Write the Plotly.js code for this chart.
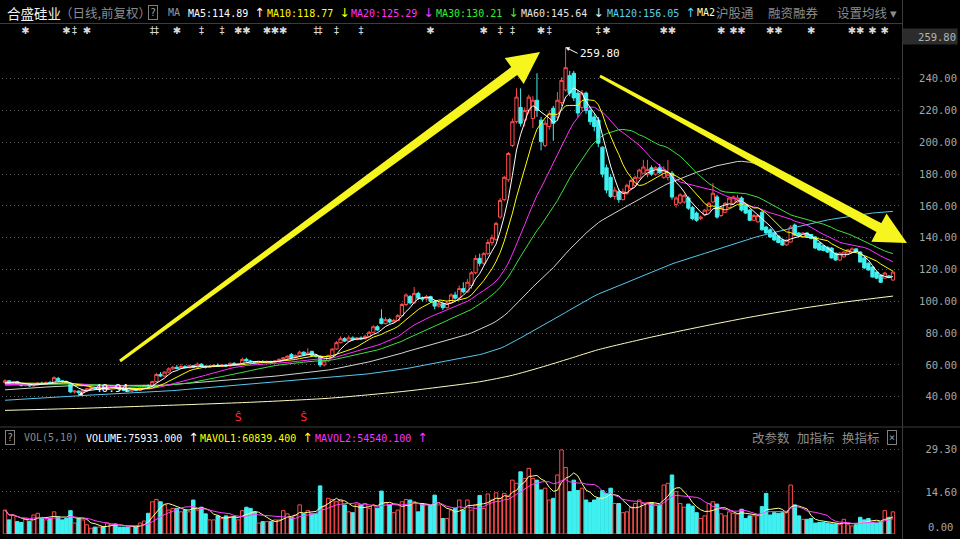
<!DOCTYPE html>
<html><head><meta charset="utf-8">
<script src="https://cdn.plot.ly/plotly-3.0.1.min.js"></script>
<style>html,body{margin:0;padding:0;background:#000;}#chart{width:960px;height:539px;}</style>
</head><body><div id="chart"></div>
<script>
// ---------- DATA ----------
const stockName = '合盛硅业';
// closes before the visible window (only feed the long moving averages)
const histClose = [
27,27.5,28,27.2,26.8,27.5,28.2,28.8,28.1,27.6,
28.4,29,29.5,28.7,28.2,29.1,29.8,30.2,29.6,29,
29.8,30.5,31,30.3,29.7,30.4,31.2,31.6,30.8,30.2,
31,31.8,32.3,31.5,30.9,31.6,32.4,33,32.2,31.7,
32.5,33.2,33.8,33,32.4,33.1,33.9,34.5,33.6,33,
33.8,34.6,35.2,34.4,33.8,34.5,35.3,36,35.2,34.6,
35.5,36.4,37,36.2,37.1,38,38.6,37.8,38.7,39.5,
40.2,39.4,40.3,41.2,41.8,41,41.9,42.7,43.3,42.5,
43.4,44.2,44.8,44,44.9,45.6,46.2,45.4,46.1,46.8,
47.2,46.5,45.8,46.4,47.1,47.6,46.9,46.2,45.6,46.3,
47,47.5,46.8,46.1,45.5,46.2,46.9,47.5,48.1,47.4,
46.8,47.5,48.2,48.8,48.1,47.5,48.3,49,49.5];

const open = [
49,50,48.5,49.5,48,47,48,46.8,47.5,48.5,
48,49,48.5,51.5,50,49.5,48.5,43,43.5,42.5,
44,45,45.5,45,45.8,45.2,46,46.2,45.6,44.5,
44,43.5,44.5,44,45.5,47,46.8,49.5,54,53,
55.5,57.5,58.5,57.8,59,58.2,59.5,58.5,60.5,59,
58.5,59,59.8,59.2,60,59.3,61,60.2,60.8,63.5,
62.5,62,61.5,62,61.5,62.2,61.8,62.5,63.5,64.5,
66.5,64.5,66,68,66.5,68.5,66,65.5,60,62.5,
66,70,74,76.5,75,77,76,77,76.5,78,
80.5,84,89,86,88.5,87,88,91,98,103,
99,105,102,101.5,103,100,97,98.5,96,99,
104,102,108,106,110,118,127,124,130,137,
139,153,164,176.5,198,213,222,214,220,215,
226.5,214,198,210,221.5,216,225,233,242,243.5,
231,222,231,220,216,214,197,184,178,166,
169,164,168,171,173,177.6,180.6,180,184,180,
184,178,178,180.6,161,162,162.5,165,159,155.5,
152,154.3,157.4,162.5,165.7,154,156,159,161.7,162.5,
165,160.6,157.4,151,150,156,146.7,145,143,141,
138.6,135.5,137.3,148,143,140.5,143,142,140.5,136.7,
135,134,133.5,130.3,126,128,130.3,131,133,131,
127.3,124,121.6,118.4,116.5,114.6,116,113.4];

const high = [
51,50.5,50,50,48.5,48.5,48.2,48,49,49.5,
49.5,50,52.8,52.5,50.5,50,48.8,44,44,44.5,
45.5,46,46.3,46.2,46.3,46.5,46.8,46.6,45.8,45,
44.5,45,45,46,47.5,47.8,50,55,55.5,56,
58.5,59.5,60,60.5,59.8,60.2,60,61.5,61,59.5,
59.8,60.5,61,60.5,60.4,61.5,61.8,61.2,64.5,64.5,
63.2,62.5,62.5,63,62.8,62.6,63,64,65,66,
67.5,66.5,69,68.5,70.5,69,66.8,65.8,63.5,66.5,
70.5,75,78,77.5,78.5,78,77.5,78,79,81.5,
85,85,95,90,89.5,89,92,99,105,104,
109,106,103,104,103.5,101,100,99,100,105,
106,110,112,114,119,129,130,131,139,142,
150,165,179,194,215,234,234,222,230,229,
243.5,216,214,220,223,231.7,241,259.8,245,245,
233,233,232,222,218,216,197.5,186,180,172,
171,171,174,177,179,183.5,189,189,185.5,185,
186.5,185,189,182,166,168,167.5,166,160,156.5,
154,158,162.5,174.4,167,160,162.5,165.5,166.5,167,
166,161,158,155,155,157,147.5,146,144,141.5,
139.5,139,148,149,143.5,143.5,143.5,142.5,141,137,
135.5,134.5,134,130.5,131,131.5,133,134,133.5,131.5,
127.8,124.5,122,119,117,118.5,116.5,119];

const low = [
48,48,48,47.5,46.5,46.5,46.2,46.5,47,47.5,
47.8,48,48.3,49.5,49,48,42.5,42,40.94,42,
43.5,44.5,44.6,44.8,44.8,45,45.2,45.2,44,43.5,
42.8,43,43.5,43.8,45.2,46,46.5,49,52.5,52.5,
55,57,57.2,57.5,57.8,58,58,58.2,58.5,57.8,
58,58.5,59,58.8,59,59,59.8,59.8,60.5,62,
61.5,61,61,61.2,61,61.2,61.5,62,63,64,
64,64,65.5,66,66,65.5,64.5,58.7,59,62,
65.5,69.5,73.5,74.5,74.5,75,75.5,76,76,77.5,
80,81.5,85.5,85.5,86,86.5,87.5,90.5,97,98,
98.5,101,100,100.5,99,95,96,94.5,95.5,98.5,
101,101,105,105.5,108,117,122,123,129,135,
138,152,163,175,197,212,210,210,218,209,
216,195,197,208,201,214,223,232,229,226,
216,220,218,211,207,197,178,168,165,164,
162,163.5,167,170,172,177,180,178,179,179,
180,177,176,164,159,161,161.5,157.5,151,150,
151,153.5,157,162,152,153,155.5,158.5,161,162,
156.5,155,150.5,150.5,149.5,144.5,142.5,140,138,136.5,
135,135,137,141,141,140,140,139,133,132,
131.5,130.5,127,125.5,125.5,127.5,130,130.5,131,124.5,
120.5,119.5,115,114,111.5,114,114.5,113];

const close = [
50,48.5,49.5,48,47,48,46.8,47.5,48.5,48,
49,48.5,52,50,49.5,48.5,43,43.5,42.5,44,
45,45.5,45,45.8,45.2,46,46.2,45.6,44.5,44,
43.5,44.5,44,45.5,47,46.5,49.5,54,53,55.5,
57.5,58.5,57.8,59,58.2,59.5,58.5,60.5,59,58.5,
59,59.8,59.2,60,59.3,61,60.2,60.8,63.5,62.5,
62,61.5,62,61.5,62.2,61.8,62.5,63.5,64.5,65.5,
64.5,66,68,66.5,67.5,66,65.5,60,62.5,66,
70,74,76.5,75,77,76,77,76.5,78,80.5,
84,82,86,88.5,87,88,91,98,104,99,
105,102,101.5,103,100,97,98.5,96,99,104,
102,108,106,112,118,127,124,130,137,140,
149,163.5,178,193,213,228.5,212,220,228.5,226.5,
220,200.5,212,218,212,226.5,239,247,231,228,
218.5,231,220,213,210,199.5,180,170,166,170,
164,169,173,176,178,182.6,184.5,183,180,184,
181,183,180,165.6,165,167,166.5,158.6,152,151,
153,157.4,161.7,168,153,159,161.7,165,165.7,165,
157.4,155.5,151,154,154,145,143,140.5,138.6,137,
135.4,138.5,146.7,141.7,141.5,143,140.5,139.5,133.5,132.3,
132,131,127.3,126,130.3,131,132.3,133,131.5,124.7,
121,119.7,115.3,114.6,112,117.8,115,118.4];

// volume in 10k lots
const volume = [
8.3,4.9,6.6,4.3,4.0,5.4,4.3,6.6,7.2,5.4,
4.9,5.4,7.7,6.0,4.9,5.4,8.1,3.8,5.4,4.9,
3.2,2.0,2.4,2.4,2.6,3.8,3.5,3.5,2.4,2.4,
2.4,2.8,2.4,3.8,4.5,7.2,11.2,12.0,11.2,10.1,
8.3,8.9,8.9,7.7,8.3,7.7,11.8,8.3,9.3,7.0,
4.9,4.9,6.3,5.4,6.3,6.0,6.0,4.9,8.1,9.3,
8.9,7.7,3.8,4.3,4.3,4.3,4.9,4.9,8.1,7.0,
5.8,6.6,10.1,7.0,8.1,7.0,7.0,16.7,9.7,12.4,
12.0,11.2,12.0,10.1,7.7,7.4,10.4,10.1,10.6,8.9,
10.1,9.0,14.9,10.9,10.1,7.4,8.3,11.2,12.0,11.8,
11.2,7.7,10.6,10.4,10.1,13.5,10.1,5.4,5.4,8.3,
8.9,11.8,8.3,11.8,8.3,10.1,13.4,8.9,13.9,11.8,
14.3,12.4,14.1,13.0,18.7,17.6,21.6,19.3,22.8,19.3,
18.7,15.3,15.9,11.8,12.4,20.5,29.2,23.1,14.7,18.7,
15.1,15.9,11.8,10.9,11.8,12.4,15.1,14.1,15.9,10.6,
10.6,7.4,7.7,9.3,10.6,11.8,10.6,10.9,10.9,10.1,
10.1,17.0,17.6,20.5,14.7,10.6,9.3,10.4,9.7,7.4,
5.4,6.3,10.6,11.2,10.4,7.0,6.3,7.7,7.2,7.0,
8.6,5.4,6.3,6.3,6.3,9.5,14.1,6.6,7.4,7.2,
7.4,7.7,17.0,10.1,6.3,5.1,5.1,5.4,3.8,4.0,
4.0,3.8,3.5,3.5,3.2,5.1,3.2,2.8,3.2,5.8,
4.9,5.4,4.0,3.8,4.3,8.1,5.8,7.7];

// MA250 at a few candles
const ma250X = [0,20,38,60,79,98,116,124,131,138,145,158,170,182,194,206,217];
const ma250Y = [31.4,32.8,34.4,36.5,39,43.5,49.4,53.5,58.5,64,69.6,77.5,84,90,95.3,99.8,103.3];

const priceTicks = [40,60,80,100,120,140,160,180,200,220,240];
const volTicks = [14.6,29.3];

// event markers row
const eventIdx = [5,15,17,20,36,37,42,48,53,57,59,64,66,68,76,77,81,87,104,117,121,124,131,133,145,147,161,163,175,178,180,187,189,197,207,209,212,215];
const eventSym = ['✱','✱','‡','✱','‡','‡','✱','‡','‡','✱','✱','✱','✱','✱','‡','‡','‡','‡','✱','✱','‡','‡','✱','‡','‡','✱','✱','✱','✱','✱','✱','✱','✱','✱','✱','✱','✱','✱'];
const sMarkIdx = [57,73];

// ---------- helpers ----------
const W = 960, Hh = 539;
const P = x => x / W, Q = y => 1 - y / Hh;
const MONO = 'DejaVu Sans Mono', CJK = 'Noto Sans CJK SC';
const idx = close.map((_, i) => i);
const allClose = histClose.concat(close);
const HL = histClose.length;
function sma(n) {
  return close.map((c, i) => {
    const e = HL + i, s = e - n + 1;
    if (s < 0) return null;
    let t = 0; for (let k = s; k <= e; k++) t += allClose[k];
    return t / n;
  });
}
function vma(n) {
  return volume.map((v, i) => {
    const a = Math.max(0, i - n + 1);
    let t = 0; for (let k = a; k <= i; k++) t += volume[k];
    return t / (i - a + 1);
  });
}
const RED = '#ff4c4c', CYAN = '#3ff0f0';
const up = close.map((c, i) => c >= open[i]);

const traces = [];
traces.push({
  type: 'candlestick', x: idx, open: open, high: high, low: low, close: close,
  xaxis: 'x', yaxis: 'y', hoverinfo: 'skip', whiskerwidth: 0,
  increasing: {line: {color: RED, width: 1}, fillcolor: '#000000'},
  decreasing: {line: {color: CYAN, width: 1}, fillcolor: CYAN},
  showlegend: false
});
const maDefs = [[250,'#fffcc0'],[120,'#55c8f0'],[60,'#d4d4d4'],[30,'#3ee03e'],[20,'#ff30ff'],[10,'#ffff00'],[5,'#ffffff']];
maDefs.forEach(([n, col]) => {
  if (n === 250) {
    traces.push({type:'scatter', mode:'lines', x: ma250X, y: ma250Y, line:{color:col, width:1, shape:'spline', smoothing:0.6}, xaxis:'x', yaxis:'y', hoverinfo:'skip', showlegend:false});
  } else {
    traces.push({type:'scatter', mode:'lines', x: idx, y: sma(n), line:{color:col, width:1}, xaxis:'x', yaxis:'y', hoverinfo:'skip', showlegend:false});
  }
});
traces.push({type:'scatter', mode:'text', x: eventIdx, y: eventIdx.map(() => 270), text: eventSym,
  textfont:{family:'DejaVu Sans', size:10, color:'#d8d8d8'}, xaxis:'x', yaxis:'y', hoverinfo:'skip', showlegend:false});
traces.push({type:'scatter', mode:'text', x: sMarkIdx, y: sMarkIdx.map(() => 26.6), text: sMarkIdx.map(() => 'Ŝ'),
  textfont:{family:'DejaVu Sans', size:11, color:'#ff2a2a'}, xaxis:'x', yaxis:'y', hoverinfo:'skip', showlegend:false});

traces.push({type:'bar', x: idx, y: volume, xaxis:'x2', yaxis:'y2', hoverinfo:'skip', showlegend:false,
  marker:{color: up.map(u => u ? '#000000' : CYAN), line:{color: up.map(u => u ? RED : CYAN), width:1}}});
traces.push({type:'scatter', mode:'lines', x: idx, y: vma(5), xaxis:'x2', yaxis:'y2', line:{color:'#ffff90', width:1}, hoverinfo:'skip', showlegend:false});
traces.push({type:'scatter', mode:'lines', x: idx, y: vma(10), xaxis:'x2', yaxis:'y2', line:{color:'#ff40ff', width:1}, hoverinfo:'skip', showlegend:false});

// ---------- annotations ----------
const ARW = s => '<span style="font-family:DejaVu Sans;font-size:12.5px">' + s + '</span>';
function txt(x, y, text, color, size, family, anchor) {
  return {xref:'paper', yref:'paper', x:P(x), y:Q(y), xanchor: anchor || 'left', yanchor:'middle',
    text: text, showarrow:false, font:{color: color, size: size, family: family}};
}
function boxed(x, y, text) {
  return {xref:'paper', yref:'paper', x:P(x), y:Q(y), xanchor:'center', yanchor:'middle', text:text, showarrow:false,
    bordercolor:'#808080', borderwidth:1, borderpad:1, font:{color:'#a0a0a0', size:10, family:MONO}};
}
const ann = [
  txt(5, 13, stockName, '#f0f0f0', 13.5, CJK),
  txt(58, 13, '（日线,前复权）', '#8c8c8c', 12.5, CJK),
  boxed(153, 13, '?'),
  txt(166, 13, 'MA', '#9a9a9a', 10, MONO),
  txt(186, 13, 'MA5:114.89 ' + ARW('↑'), '#ffffff', 10, MONO),
  txt(265, 13, 'MA10:118.77 ' + ARW('↓'), '#ffff00', 10, MONO),
  txt(349, 13, 'MA20:125.29 ' + ARW('↓'), '#ff33ff', 10, MONO),
  txt(434, 13, 'MA30:130.21 ' + ARW('↓'), '#33ee33', 10, MONO),
  txt(519, 13, 'MA60:145.64 ' + ARW('↓'), '#e6e6e6', 10, MONO),
  txt(605, 13, 'MA120:156.05 ' + ARW('↑'), '#55d0f5', 10, MONO),
  txt(695, 13, 'MA2', '#ffffc0', 10, MONO),
  txt(714, 13, '沪股通', '#8c8c8c', 12.5, CJK),
  txt(766, 13, '融资融券', '#8c8c8c', 12.5, CJK),
  txt(835, 13, '设置均线 ▾', '#8c8c8c', 12.5, CJK),
  boxed(10, 437, '?'),
  txt(22, 437, 'VOL(5,10)', '#8c8c8c', 10, MONO),
  txt(84, 437, 'VOLUME:75933.000 ' + ARW('↑'), '#ffffff', 10, MONO),
  txt(198, 437, 'MAVOL1:60839.400 ' + ARW('↑'), '#ffff00', 10, MONO),
  txt(313, 437, 'MAVOL2:54540.100 ' + ARW('↑'), '#ff33ff', 10, MONO),
  txt(750, 437, '改参数', '#8c8c8c', 12.5, CJK),
  txt(795, 437, '加指标', '#8c8c8c', 12.5, CJK),
  txt(840, 437, '换指标', '#8c8c8c', 12.5, CJK),
  boxed(892, 437, '×'),
  {xref:'paper', yref:'paper', x:P(930), y:Q(36), xanchor:'center', yanchor:'middle', width:52, height:13, align:'right',
    text:'259.80', showarrow:false, bgcolor:'#2c2c2c', font:{color:'#b4b4b4', size:10.5, family:MONO}},
  txt(955, 527, '0.00', '#a6a6a6', 10.5, MONO, 'right'),
  {xref:'x', yref:'y', x:18, y:40.94, text:'40.94', showarrow:true, arrowhead:2, arrowsize:0.8, arrowwidth:1,
    arrowcolor:'#ffffff', ax:14, ay:-7, xanchor:'left', standoff:0, font:{color:'#ffffff', size:11, family:MONO}},
  {xref:'x', yref:'y', x:137, y:259.8, text:'259.80', showarrow:true, arrowhead:2, arrowsize:0.8, arrowwidth:1,
    arrowcolor:'#ffffff', ax:12, ay:6, xanchor:'left', standoff:0, font:{color:'#ffffff', size:11, family:MONO}}
];

// ---------- shapes ----------
function poly(pts) {
  return 'M ' + pts.map(p => P(p[0]).toFixed(5) + ',' + Q(p[1]).toFixed(5)).join(' L ') + ' Z';
}
const YEL = '#f6f61e';
const shapes = [
  {type:'line', xref:'paper', yref:'paper', x0:0, x1:P(902), y0:Q(23.5), y1:Q(23.5), line:{color:'#3c3c3c', width:1}},
  {type:'line', xref:'paper', yref:'paper', x0:P(902.5), x1:P(902.5), y0:0, y1:1, line:{color:'#3c3c3c', width:1}},
  {type:'line', xref:'paper', yref:'paper', x0:0, x1:1, y0:Q(427), y1:Q(427), line:{color:'#3c3c3c', width:1}},
  {type:'path', xref:'paper', yref:'paper', layer:'above', fillcolor:YEL, line:{width:0},
    path: poly([[119.1,359.8],[511.2,67],[504.7,58.1],[540,52],[523.7,83.9],[517.2,75],[120.9,362.2]])},
  {type:'path', xref:'paper', yref:'paper', layer:'above', fillcolor:YEL, line:{width:0},
    path: poly([[600.7,74.7],[881.3,223.3],[886.5,213.6],[907,243],[871.3,241.8],[876.5,232.1],[599.3,77.3]])}
];

const xr = [(2 - 5) / 4.092, (902 - 5) / 4.092];
const tickFont = {family: MONO, size: 10.5, color: '#a6a6a6'};
const layout = {
  width: W, height: Hh, margin: {l:0, r:0, t:0, b:0, pad:0},
  paper_bgcolor: '#000000', plot_bgcolor: '#000000',
  showlegend: false, bargap: 0.15, boxgap: 0.2, boxgroupgap: 0,
  xaxis: {domain:[P(2), P(902)], range: xr, anchor:'y', showticklabels:false, showgrid:false, zeroline:false,
    showline:false, ticks:'', rangeslider:{visible:false}, fixedrange:true},
  xaxis2: {domain:[P(2), P(902)], range: xr, anchor:'y2', showticklabels:false, showgrid:false, zeroline:false,
    showline:false, ticks:'', fixedrange:true},
  yaxis: {domain:[Q(426), Q(25)], range:[21.57, 273.85], anchor:'free', position:P(957), side:'left',
    tickvals: priceTicks, ticktext: priceTicks.map(v => v.toFixed(2)), tickfont: tickFont, ticks:'',
    showgrid:true, gridcolor:'#5a5a5a', griddash:'1px,3px', gridwidth:1, zeroline:false, showline:false, fixedrange:true},
  yaxis2: {domain:[Q(534), Q(428)], range:[0, 36.81], anchor:'free', position:P(957), side:'left',
    tickvals: volTicks, ticktext: volTicks.map(v => v.toFixed(2)), tickfont: tickFont, ticks:'',
    showgrid:true, gridcolor:'#5a5a5a', griddash:'1px,3px', gridwidth:1, zeroline:false, showline:false, fixedrange:true},
  annotations: ann, shapes: shapes
};
Plotly.newPlot('chart', traces, layout, {staticPlot:true, displayModeBar:false});
</script>
</body></html>
